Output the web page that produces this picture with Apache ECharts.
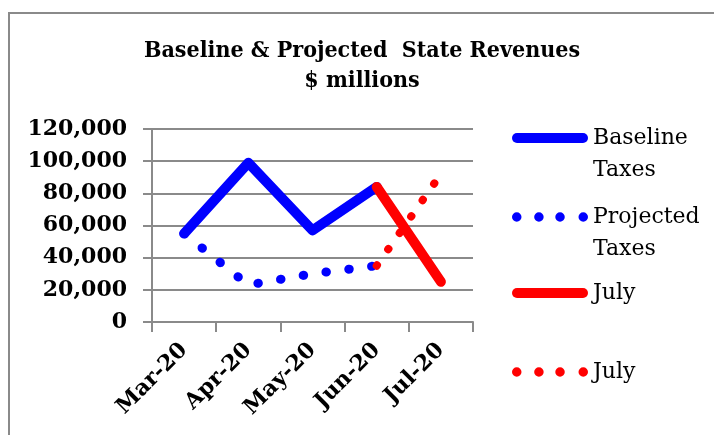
<!DOCTYPE html>
<html>
<head>
<meta charset="utf-8">
<script src="https://cdn.jsdelivr.net/npm/echarts@6/dist/echarts.min.js"></script>
<style>
  html, body { margin: 0; padding: 0; background: #fff; }
  #chart { width: 714px; height: 435px; }
</style>
</head>
<body>
<div id="chart"></div>
<script>
// data
const months = ['Mar-20', 'Apr-20', 'May-20', 'Jun-20', 'Jul-20']
const baselineTaxes = [55000, 99000, 57000, 84000, '-']
const projectedTaxes = [55000, 23000, 30000, 35000, '-']
const julyBaseline = ['-', '-', '-', 84000, 25000]
const julyProjected = ['-', '-', '-', 35000, 92000]
const yTicks = { min: 0, max: 120000, interval: 20000 }

const gray = '#8a8a8a'
const serif = '"DejaVu Serif", serif'

const solidIcon = 'path://M5,0H71A5,5 0 0 1 71,10H5A5,5 0 0 1 5,0Z'
const dotIcon = 'path://M0.5,5a4.5,4.5 0 1,0 9,0a4.5,4.5 0 1,0 -9,0Z' +
  'M21.5,5a4.5,4.5 0 1,0 9,0a4.5,4.5 0 1,0 -9,0Z' +
  'M41.5,5a4.5,4.5 0 1,0 9,0a4.5,4.5 0 1,0 -9,0Z' +
  'M63.5,5a4.5,4.5 0 1,0 9,0a4.5,4.5 0 1,0 -9,0Z'

// one legend per entry so each can sit where the reference puts it;
// two-word names wrap, with the icon level with the first line
function legendItem(name, top, icon) {
  return {
    orient: 'vertical',
    left: 512,
    top: top,
    padding: 0,
    itemWidth: 76,
    itemHeight: 10,
    itemGap: 0,
    selectedMode: false,
    data: [{ name: name, icon: icon }],
    formatter: n => {
      const words = n.trim().split(' ')
      return words.length > 1 ? '\n' + words.join('\n') : words[0]
    },
    textStyle: {
      fontFamily: serif,
      fontSize: 22,
      lineHeight: 32,
      color: '#000'
    }
  }
}

const chart = echarts.init(document.getElementById('chart'))

chart.setOption({
  backgroundColor: '#fff',
  animation: false,
  title: {
    text: 'Baseline & Projected  State Revenues\n$ millions',
    left: 362,
    top: 36,
    padding: 0,
    textAlign: 'center',
    textStyle: {
      fontFamily: '"DejaVu Serif Condensed", "DejaVu Serif", serif',
      fontWeight: 'bold',
      fontSize: 23,
      lineHeight: 30,
      color: '#000'
    }
  },
  graphic: [{
    type: 'rect',
    shape: { x: 9, y: 13, width: 730, height: 450 },
    style: { fill: 'none', stroke: gray, lineWidth: 2 },
    silent: true
  }],
  legend: [
    legendItem('Baseline Taxes', 90, solidIcon),
    legendItem('Projected Taxes', 169, dotIcon),
    legendItem('July', 277, solidIcon),
    legendItem('July ', 356, dotIcon)
  ],
  grid: { left: 152, right: 241, top: 129, bottom: 113 },
  xAxis: {
    type: 'category',
    data: months,
    boundaryGap: true,
    axisLine: { lineStyle: { color: gray, width: 2 } },
    axisTick: { show: true, length: 10, lineStyle: { color: gray, width: 2 } },
    axisLabel: {
      rotate: 45,
      margin: 25,
      fontFamily: serif,
      fontWeight: 'bold',
      fontSize: 22,
      color: '#000'
    }
  },
  yAxis: {
    type: 'value',
    min: yTicks.min,
    max: yTicks.max,
    interval: yTicks.interval,
    axisLine: { show: true, lineStyle: { color: gray, width: 2 } },
    axisTick: { show: true, length: 9, lineStyle: { color: gray, width: 2 } },
    splitLine: { lineStyle: { color: gray, width: 2 } },
    axisLabel: {
      margin: 25,
      fontFamily: serif,
      fontWeight: 'bold',
      fontSize: 22,
      color: '#000',
      formatter: v => v.toLocaleString('en-US')
    }
  },
  series: [
    {
      name: 'Baseline Taxes',
      type: 'line',
      data: baselineTaxes,
      symbol: 'none',
      color: '#0000ff',
      lineStyle: { width: 10, color: '#0000ff', cap: 'round', join: 'round' }
    },
    {
      name: 'Projected Taxes',
      type: 'line',
      data: projectedTaxes,
      symbol: 'none',
      color: '#0000ff',
      lineStyle: { width: 9, color: '#0000ff', type: [0.5, 22.5], cap: 'round', join: 'round' }
    },
    {
      name: 'July',
      type: 'line',
      data: julyBaseline,
      symbol: 'none',
      color: '#ff0000',
      lineStyle: { width: 10, color: '#ff0000', cap: 'round', join: 'round' }
    },
    {
      name: 'July ',
      type: 'line',
      data: julyProjected,
      symbol: 'none',
      color: '#ff0000',
      lineStyle: { width: 8, color: '#ff0000', type: [0.5, 19.5], cap: 'round', join: 'round' }
    }
  ]
})
</script>
</body>
</html>
